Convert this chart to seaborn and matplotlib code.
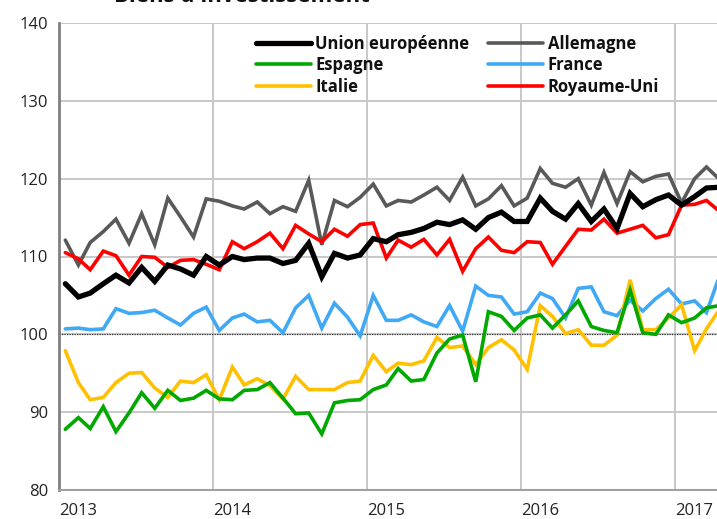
import matplotlib

matplotlib.use("Agg")
import matplotlib.dates as mdates
import matplotlib.pyplot as plt
import numpy as np
import pandas as pd
import seaborn as sns

# monthly index values, Jan 2013 .. Apr 2017
months = pd.date_range("2013-01-01", periods=52, freq="MS") + pd.Timedelta(days=15)

ue = [106.5, 104.8, 105.3, 106.5, 107.6, 106.6, 108.6, 106.8, 108.9, 108.4, 107.6, 110.0,
      108.9, 110.0, 109.6, 109.8, 109.8, 109.1, 109.5, 111.7, 107.4, 110.4, 109.8, 110.2,
      112.3, 111.9, 112.8, 113.1, 113.6, 114.4, 114.1, 114.7, 113.5, 115.0, 115.7, 114.5,
      114.5, 117.5, 115.8, 114.8, 116.8, 114.5, 116.1, 113.6, 118.1, 116.4, 117.3, 117.9,
      116.6, 117.7, 118.8, 118.9]
allemagne = [112.1, 108.9, 111.8, 113.2, 114.8, 111.7, 115.5, 111.5, 117.5, 115.1, 112.5, 117.4,
             117.1, 116.5, 116.1, 117.0, 115.5, 116.4, 115.8, 119.8, 111.5, 117.2, 116.4, 117.6,
             119.3, 116.5, 117.2, 117.0, 117.9, 118.9, 117.2, 120.2, 116.5, 117.4, 119.1, 116.5,
             117.5, 121.3, 119.4, 118.9, 120.0, 116.6, 120.8, 116.8, 120.9, 119.6, 120.3, 120.6,
             116.9, 120.0, 121.5, 119.9]
espagne = [87.8, 89.3, 87.9, 90.7, 87.5, 89.9, 92.5, 90.5, 92.8, 91.5, 91.8, 92.8,
           91.7, 91.6, 92.8, 92.9, 93.8, 91.8, 89.8, 89.9, 87.2, 91.2, 91.5, 91.6,
           92.9, 93.5, 95.6, 94.0, 94.2, 97.6, 99.4, 99.9, 93.9, 102.9, 102.3, 100.5,
           102.1, 102.5, 100.8, 102.5, 104.3, 101.0, 100.5, 100.2, 105.7, 100.2, 100.0, 102.5,
           101.5, 102.1, 103.4, 103.7]
france = [100.7, 100.8, 100.6, 100.7, 103.3, 102.7, 102.8, 103.1, 102.1, 101.2, 102.7, 103.5,
          100.5, 102.1, 102.6, 101.6, 101.8, 100.2, 103.4, 105.0, 100.8, 104.0, 102.2, 99.8,
          105.0, 101.8, 101.8, 102.5, 101.6, 101.0, 103.7, 100.4, 106.2, 105.0, 104.8, 102.6,
          102.9, 105.3, 104.6, 102.1, 105.9, 106.1, 102.9, 102.4, 104.4, 103.0, 104.6, 105.8,
          103.9, 104.3, 102.8, 107.5]
italie = [97.9, 93.8, 91.6, 91.9, 93.8, 95.0, 95.1, 93.1, 91.9, 94.0, 93.8, 94.8,
          91.6, 95.8, 93.5, 94.3, 93.4, 91.7, 94.6, 92.9, 92.9, 92.9, 93.8, 94.0,
          97.3, 95.2, 96.3, 96.1, 96.6, 99.6, 98.3, 98.5, 96.1, 98.3, 99.3, 98.0,
          95.5, 103.7, 102.3, 100.1, 100.6, 98.6, 98.6, 99.9, 107.0, 100.6, 100.6, 102.1,
          103.8, 97.9, 100.7, 103.2]
royaume_uni = [110.5, 109.7, 108.3, 110.7, 110.1, 107.6, 110.0, 109.9, 108.6, 109.5, 109.6, 109.0,
               108.3, 111.9, 111.0, 111.9, 113.0, 111.0, 114.0, 112.9, 111.9, 113.5, 112.6, 114.1,
               114.3, 109.8, 112.1, 111.2, 112.2, 110.2, 112.2, 108.1, 111.0, 112.5, 110.8, 110.5,
               111.9, 111.8, 109.0, 111.3, 113.5, 113.4, 114.8, 113.0, 113.5, 114.0, 112.4, 112.8,
               116.6, 116.7, 117.2, 115.8]

# drawing order: back to front
series = [
    ("Allemagne", allemagne, "#595959", 2.6),
    ("Royaume-Uni", royaume_uni, "#FF0000", 2.6),
    ("France", france, "#3FA9F5", 2.6),
    ("Italie", italie, "#FFC000", 2.6),
    ("Espagne", espagne, "#00A800", 2.6),
    ("Union européenne", ue, "#000000", 3.8),
]
legend_order = ["Union européenne", "Espagne", "Italie", "Allemagne", "France", "Royaume-Uni"]

sns.set_style("white")
plt.rcParams["font.family"] = ["Open Sans", "DejaVu Sans"]

fig = plt.figure(figsize=(7.17, 5.19), dpi=100)
ax = fig.add_axes([59 / 717, 1 - 490 / 519, 1 - 59 / 717, (490 - 23) / 519])

handles = {}
for name, vals, color, lw in series:
    sns.lineplot(x=months, y=vals, color=color, linewidth=lw, ax=ax,
                 label=name, solid_joinstyle="miter", zorder=3)
for line in ax.get_lines():
    handles[line.get_label()] = line

ax.axhline(100, color="#333333", linewidth=0.9, linestyle=(0, (1, 1)), zorder=2)

ax.set_ylim(80, 140)
ax.set_yticks(range(80, 141, 10))
ax.set_xlim(pd.Timestamp("2013-01-01"), pd.Timestamp("2017-04-10"))
ax.xaxis.set_major_locator(mdates.YearLocator())
ax.xaxis.set_major_formatter(mdates.DateFormatter("%Y"))
for lbl in ax.get_xticklabels():
    lbl.set_horizontalalignment("left")

ax.grid(True, color="#C8C8C8", linewidth=1.4)
ax.set_axisbelow(True)
for side in ["top", "right"]:
    ax.spines[side].set_visible(False)
ax.spines["left"].set_color("#808080")
ax.spines["left"].set_linewidth(2)
ax.spines["bottom"].set_color("#A0A0A0")
ax.spines["bottom"].set_linewidth(1.5)
ax.tick_params(axis="both", direction="out", length=5, width=1.5, color="#808080",
               labelsize=12, labelcolor="#222222", pad=3)
ax.tick_params(axis="x", pad=4.5)
ax.set_xlabel("")
ax.set_ylabel("")

leg = ax.legend([handles[n] for n in legend_order], legend_order, ncol=2,
                loc="upper left", bbox_to_anchor=(256 / 717, 1 - 35 / 519),
                bbox_transform=fig.transFigure, frameon=False, borderpad=0,
                borderaxespad=0, handlelength=3.3, handletextpad=0.25,
                columnspacing=1.15, labelspacing=0.2,
                prop={"weight": "bold", "size": 12})
for t in leg.get_texts():
    t.set_color("#111111")

# title sits mostly above the canvas, as in the cropped original
fig.text(242 / 717, 1 - 2 / 519, "Biens d'investissement", ha="center", va="baseline",
         fontsize=16, fontweight="bold", color="#111111")

fig.savefig("out.png", dpi=100)
plt.close(fig)
